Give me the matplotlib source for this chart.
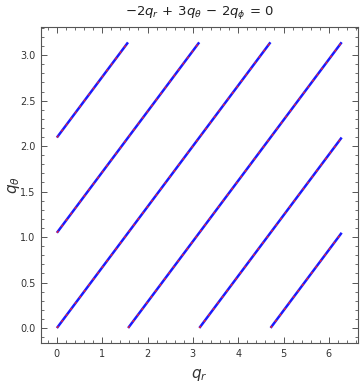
import numpy as np
import matplotlib
matplotlib.use("Agg")
import matplotlib.pyplot as plt
from matplotlib.ticker import MultipleLocator

# resonance lines 3*q_theta - 2*q_r = n*pi, n as listed
line_n = [-3, -2, -1, 0, 1, 2]
qr_range = (0.0, 2 * np.pi)
qtheta_range = (0.0, np.pi)

plt.rcParams['mathtext.fontset'] = 'dejavusans'
plt.rcParams['font.family'] = 'DejaVu Sans'

fig = plt.figure(figsize=(3.6, 3.85), dpi=100)
ax = fig.add_axes([0.114, 0.109, 0.88, 0.821])

qr = np.linspace(qr_range[0], qr_range[1], 2000)
for n in line_n:
    qt = (2 * qr + n * np.pi) / 3
    m = (qt >= qtheta_range[0] - 1e-9) & (qt <= qtheta_range[1] + 1e-9)
    ax.plot(qr[m], qt[m], color='#1a1aff', lw=1.8, solid_capstyle='butt')
    ax.plot(qr[m], qt[m], color='#ff2020', lw=0.9, ls=(0, (2, 4)))

ax.set_xlim(-0.35, 6.64)
ax.set_ylim(-0.165, 3.31)

ax.xaxis.set_major_locator(MultipleLocator(1))
ax.xaxis.set_minor_locator(MultipleLocator(0.2))
ax.yaxis.set_major_locator(MultipleLocator(0.5))
ax.yaxis.set_minor_locator(MultipleLocator(0.1))
ax.yaxis.set_major_formatter(plt.FormatStrFormatter('%.1f'))

ax.tick_params(which='both', direction='in', top=True, right=True,
               color='#555555', labelsize=7, labelcolor='#333333')
ax.tick_params(which='major', length=4, width=0.7, pad=4)
ax.tick_params(which='minor', length=2, width=0.6)
for s in ax.spines.values():
    s.set_color('#555555')
    s.set_linewidth(0.8)

ax.set_xlabel(r'$q_r$', fontsize=11, color='#333333')
ax.set_ylabel(r'$q_\theta$', fontsize=11, color='#333333')
ax.xaxis.set_label_coords(0.5, -0.10)
ax.yaxis.set_label_coords(-0.085, 0.5)
ax.xaxis.label.set_va('center')
ax.yaxis.label.set_va('center')
ax.set_title(r'$-2q_r\,+\,3q_\theta\,-\,2q_\phi\,=\,0$', fontsize=9.5,
             color='#222222', pad=9)

fig.savefig('out.png', dpi=100)
